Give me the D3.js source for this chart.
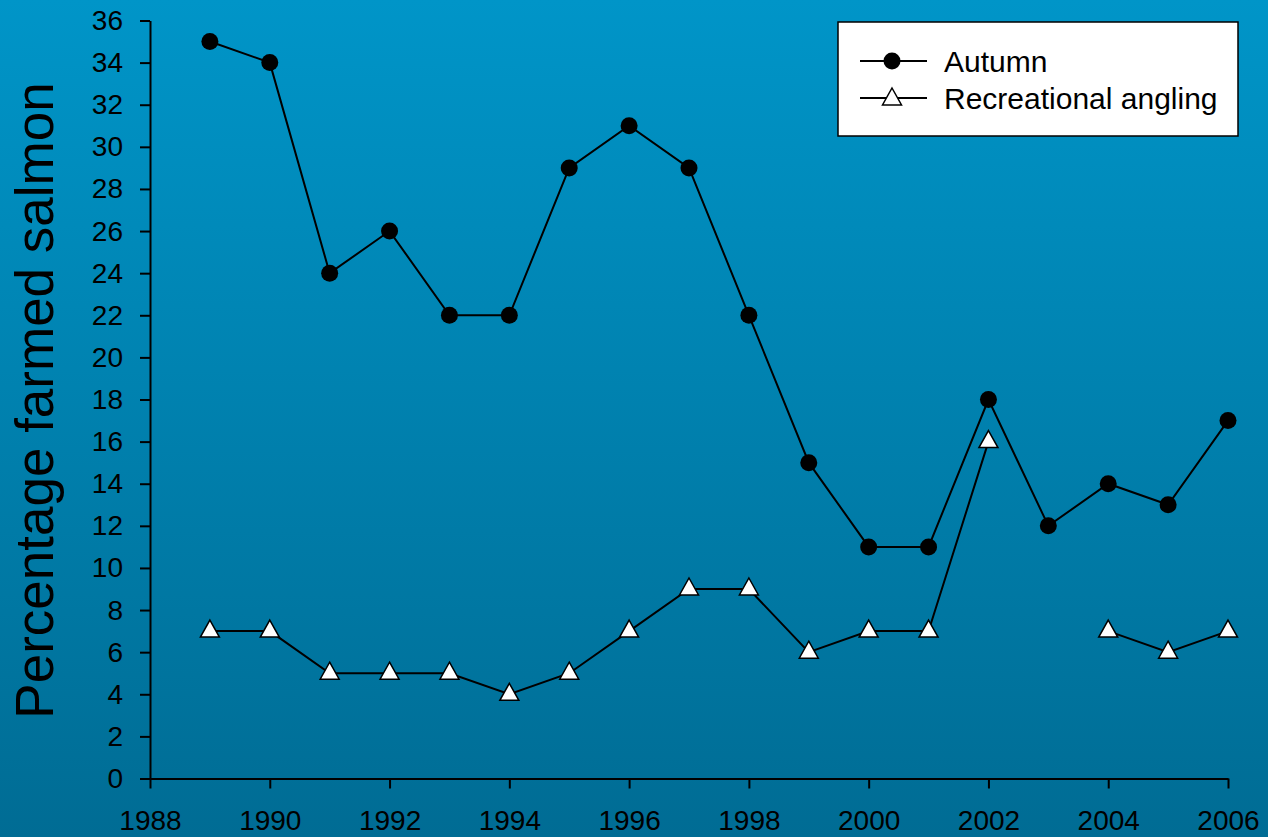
<!DOCTYPE html>
<html>
<head>
<meta charset="utf-8">
<script src="https://cdn.jsdelivr.net/npm/d3@7"></script>
<style>
  body { margin: 0; overflow: hidden; }
  svg { display: block; font-family: "Liberation Sans", Arial, sans-serif; }
</style>
</head>
<body>
<div id="chart"></div>
<script>
// data
var years = [1989, 1990, 1991, 1992, 1993, 1994, 1995, 1996, 1997, 1998, 1999, 2000, 2001, 2002, 2003, 2004, 2005, 2006];
var autumn = [35, 34, 24, 26, 22, 22, 29, 31, 29, 22, 15, 11, 11, 18, 12, 14, 13, 17];
var angling = [7, 7, 5, 5, 5, 4, 5, 7, 9, 9, 6, 7, 7, 16, null, 7, 6, 7];
var xTicks = [1988, 1990, 1992, 1994, 1996, 1998, 2000, 2002, 2004, 2006];
var yTicks = [0, 2, 4, 6, 8, 10, 12, 14, 16, 18, 20, 22, 24, 26, 28, 30, 32, 34, 36];
var seriesNames = ["Autumn", "Recreational angling"];

var W = 1268, H = 837;
var margin = { top: 20.5, right: 38, bottom: 58.5, left: 150 };
var width = W - margin.left - margin.right;
var height = H - margin.top - margin.bottom;

var root = d3.select("#chart").append("svg")
    .attr("width", W)
    .attr("height", H);

// background gradient
var grad = root.append("defs").append("linearGradient")
    .attr("id", "bg")
    .attr("x1", 0).attr("y1", 0).attr("x2", 0).attr("y2", 1);
grad.append("stop").attr("offset", "0%").attr("stop-color", "#0095c8");
grad.append("stop").attr("offset", "100%").attr("stop-color", "#006c94");
root.append("rect").attr("width", W).attr("height", H).attr("fill", "url(#bg)");

var svg = root.append("g")
    .attr("transform", "translate(" + margin.left + "," + margin.top + ")");

var x = d3.scaleLinear().domain([1988, 2006]).range([0, width - 2]);
var y = d3.scaleLinear().domain([0, 36]).range([height, 0]);

// axes
var xAxis = d3.axisBottom(x).tickValues(xTicks).tickFormat(d3.format("d")).tickSize(10).tickSizeOuter(0);
var yAxis = d3.axisLeft(y).tickValues(yTicks).tickSize(10).tickSizeOuter(0);

var gx = svg.append("g")
    .attr("transform", "translate(0," + height + ")")
    .call(xAxis);
var gy = svg.append("g").call(yAxis);

[gx, gy].forEach(function(g) {
    g.select(".domain").attr("stroke", "#000").attr("stroke-width", 2);
    g.selectAll(".tick line").attr("stroke", "#000").attr("stroke-width", 2);
    g.selectAll(".tick text")
        .attr("fill", "#000")
        .style("font-size", "28px")
        .style("font-family", "Liberation Sans, Arial, sans-serif");
});
gx.selectAll(".tick text").attr("y", 31.5).attr("dy", "0.71em");
gy.selectAll(".tick text").attr("x", -27);

// y label
svg.append("text")
    .attr("transform", "rotate(-90)")
    .attr("x", -height / 2 - 1)
    .attr("y", -97)
    .attr("text-anchor", "middle")
    .style("font-size", "53px")
    .attr("fill", "#000")
    .text("Percentage farmed salmon");

// lines
var line = d3.line()
    .defined(function(d) { return d[1] != null; })
    .x(function(d) { return x(d[0]); })
    .y(function(d) { return y(d[1]); });

var autumnData = years.map(function(yr, i) { return [yr, autumn[i]]; });
var anglingData = years.map(function(yr, i) { return [yr, angling[i]]; });

svg.append("path").datum(autumnData)
    .attr("d", line).attr("fill", "none").attr("stroke", "#000").attr("stroke-width", 2);
svg.append("path").datum(anglingData)
    .attr("d", line).attr("fill", "none").attr("stroke", "#000").attr("stroke-width", 2);

// triangle marker, 19 wide, 17 tall
var triPath = "M0,-11L9.5,6L-9.5,6Z";

svg.selectAll(".dot-autumn")
    .data(autumnData)
    .enter().append("circle")
    .attr("class", "dot-autumn")
    .attr("cx", function(d) { return x(d[0]); })
    .attr("cy", function(d) { return y(d[1]); })
    .attr("r", 8.5)
    .attr("fill", "#000");

svg.selectAll(".dot-angling")
    .data(anglingData.filter(function(d) { return d[1] != null; }))
    .enter().append("path")
    .attr("class", "dot-angling")
    .attr("d", triPath)
    .attr("transform", function(d) { return "translate(" + x(d[0]) + "," + y(d[1]) + ")"; })
    .attr("fill", "#fff")
    .attr("stroke", "#000")
    .attr("stroke-width", 1.5);

// legend
var leg = root.append("g").attr("transform", "translate(838,22)");
leg.append("rect")
    .attr("width", 400).attr("height", 114)
    .attr("fill", "#fff").attr("stroke", "#000").attr("stroke-width", 1.5);

seriesNames.forEach(function(name, i) {
    var ly = 39 + i * 37;
    var row = leg.append("g").attr("transform", "translate(0," + ly + ")");
    row.append("line").attr("x1", 22).attr("x2", 89).attr("y1", 0).attr("y2", 0)
        .attr("stroke", "#000").attr("stroke-width", 2);
    if (i == 0) {
        row.append("circle").attr("cx", 54).attr("cy", 0).attr("r", 8.5).attr("fill", "#000");
    } else {
        row.append("path").attr("d", triPath).attr("transform", "translate(54,1)")
            .attr("fill", "#fff").attr("stroke", "#000").attr("stroke-width", 1.5);
    }
    row.append("text")
        .attr("x", 106).attr("y", 0).attr("dy", "0.35em")
        .style("font-size", "30px").attr("fill", "#000")
        .text(name);
});
</script>
</body>
</html>
